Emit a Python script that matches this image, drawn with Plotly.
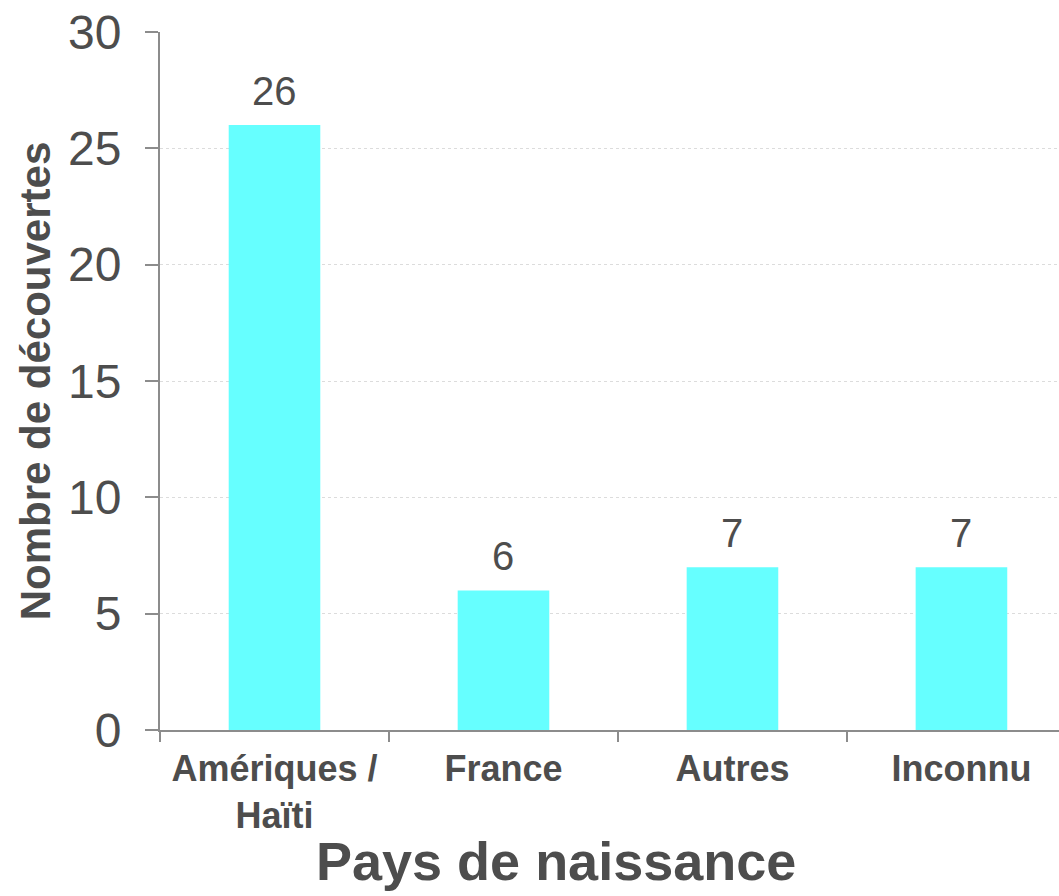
import plotly.graph_objects as go

# Découvertes par pays de naissance
categories = ["Amériques /<br>Haïti", "France", "Autres", "Inconnu"]
values = [26, 6, 7, 7]
y_ticks = [0, 5, 10, 15, 20, 25, 30]

text_color = "#4d4d4d"
axis_color = "#8c8c8c"
font_family = "Liberation Sans, Arial, sans-serif"

fig = go.Figure()
fig.add_trace(go.Bar(
    x=categories,
    y=values,
    width=0.4,
    marker=dict(color="#66FFFF", line=dict(width=0)),
    hoverinfo="skip",
))

# Value labels above each bar
for cat, val in zip(categories, values):
    fig.add_annotation(
        x=cat, y=val, text=str(val), showarrow=False,
        yanchor="bottom", yshift=10,
        font=dict(family=font_family, size=40, color=text_color),
    )

# X axis title, placed as a paper annotation below the tick labels
fig.add_annotation(
    xref="paper", yref="paper", x=0.441, y=0,
    xanchor="center", yanchor="middle", yshift=-131,
    text="<b>Pays de naissance</b>", showarrow=False,
    font=dict(family=font_family, size=54, color=text_color),
)

fig.update_layout(
    width=1059,
    height=896,
    margin=dict(l=160, r=0, t=32, b=166),
    paper_bgcolor="white",
    plot_bgcolor="white",
    showlegend=False,
    font=dict(family=font_family, color=text_color),
)

fig.update_xaxes(
    type="category",
    range=[-0.5, 3.426],
    showline=True, linecolor=axis_color, linewidth=2,
    ticks="outside", tickson="boundaries", ticklen=10,
    tickcolor=axis_color, tickwidth=2,
    showgrid=False,
    tickfont=dict(family=font_family, size=36, color=text_color, weight="bold"),
    ticklabelstandoff=6,
)

fig.update_yaxes(
    range=[0, 30],
    tickvals=y_ticks,
    showline=True, linecolor=axis_color, linewidth=2,
    ticks="outside", ticklen=13, tickcolor=axis_color, tickwidth=2,
    showgrid=True, gridcolor="#dcdcdc", gridwidth=1, griddash="dot",
    zeroline=False,
    tickfont=dict(family=font_family, size=48, color=text_color),
    ticklabelstandoff=14,
    title=dict(
        text="<b>Nombre de découvertes</b>",
        font=dict(family=font_family, size=42, color=text_color),
        standoff=4,
    ),
)

fig.write_html("out.html")
